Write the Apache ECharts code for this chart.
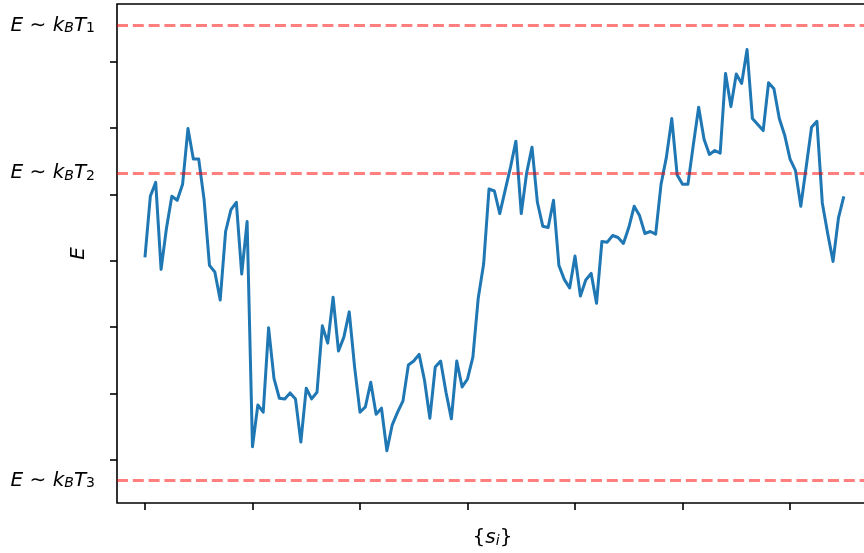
<!DOCTYPE html>
<html>
<head>
<meta charset="utf-8">
<script src="https://cdn.jsdelivr.net/npm/echarts@6/dist/echarts.min.js"></script>
<style>html,body{margin:0;padding:0;background:#fff;}#chart{width:864px;height:553px;}</style>
</head>
<body>
<div id="chart"></div>
<script>
// Energy trace E along the sequence {s_i}, one value per step
const energies = [
  3.05, 3.97, 4.18, 2.87, 3.49, 3.97, 3.91, 4.15, 4.99, 4.53,
  4.53, 3.92, 2.93, 2.83, 2.41, 3.44, 3.77, 3.88, 2.80, 3.59,
  0.20, 0.83, 0.72, 1.99, 1.23, 0.93, 0.92, 1.01, 0.92, 0.27,
  1.08, 0.92, 1.02, 2.02, 1.76, 2.45, 1.64, 1.85, 2.23, 1.40,
  0.72, 0.80, 1.17, 0.69, 0.78, 0.14, 0.53, 0.72, 0.89, 1.43,
  1.49, 1.59, 1.20, 0.63, 1.40, 1.49, 1.02, 0.62, 1.49, 1.10,
  1.22, 1.55, 2.44, 2.95, 4.08, 4.05, 3.71, 4.06, 4.41, 4.80,
  3.71, 4.32, 4.71, 3.88, 3.52, 3.50, 3.91, 2.93, 2.72, 2.59,
  3.07, 2.47, 2.71, 2.81, 2.36, 3.29, 3.28, 3.38, 3.35, 3.26,
  3.50, 3.82, 3.68, 3.41, 3.44, 3.40, 4.15, 4.56, 5.14, 4.29,
  4.15, 4.15, 4.74, 5.31, 4.83, 4.60, 4.66, 4.62, 5.82, 5.32,
  5.81, 5.67, 6.18, 5.14, 5.05, 4.96, 5.68, 5.59, 5.14, 4.89,
  4.53, 4.36, 3.82, 4.41, 5.01, 5.10, 3.87, 3.41, 2.99, 3.64,
  3.97
];
// Reference energy levels (dashed lines) and their labels
const levelValues = [6.54, 4.32, -0.31];
const levelLabels = [
  '{it|E} {rm|\u223C} {it|k}{sub|B}{it|T}{subr|1}',
  '{it|E} {rm|\u223C} {it|k}{sub|B}{it|T}{subr|2}',
  '{it|E} {rm|\u223C} {it|k}{sub|B}{it|T}{subr|3}'
];
const xTicks = [0, 20, 40, 60, 80, 100, 120];
const yTicks = [0, 1, 2, 3, 4, 5, 6];
const xName = '{{it|s}{sub|i}}';
const yName = 'E';

const FONT = 'DejaVu Sans';
const rich = {
  it:   {fontFamily: FONT, fontStyle: 'italic', fontSize: 20, lineHeight: 20, color: '#000', verticalAlign: 'bottom'},
  rm:   {fontFamily: FONT, fontSize: 20, lineHeight: 20, color: '#000', verticalAlign: 'bottom'},
  sub:  {fontFamily: FONT, fontStyle: 'italic', fontSize: 14, lineHeight: 8, color: '#000', verticalAlign: 'bottom'},
  subr: {fontFamily: FONT, fontSize: 14, lineHeight: 8, color: '#000', verticalAlign: 'bottom'}
};

const chart = echarts.init(document.getElementById('chart'), null, {renderer: 'canvas'});
chart.setOption({
  animation: false,
  backgroundColor: '#fff',
  grid: {
    left: 117, top: 4, width: 751, bottom: 50,
    show: true, borderColor: '#000', borderWidth: 1.6, backgroundColor: 'transparent',
    containLabel: false, outerBoundsMode: 'none'
  },
  xAxis: {
    type: 'value', min: -5.2, max: 134.5,
    name: xName, nameLocation: 'middle', nameGap: 25,
    nameTextStyle: {fontFamily: FONT, fontSize: 20, lineHeight: 20, color: '#000', rich: rich},
    axisLine: {show: false, onZero: false},
    axisTick: {show: true, length: 7, inside: false, lineStyle: {color: '#000', width: 1.6}, customValues: xTicks},
    axisLabel: {show: false},
    splitLine: {show: false}
  },
  yAxis: {
    type: 'value', min: -0.647, max: 6.865,
    name: yName, nameLocation: 'middle', nameGap: 28,
    nameTextStyle: {fontFamily: FONT, fontStyle: 'italic', fontSize: 20, lineHeight: 20, color: '#000'},
    axisLine: {show: false, onZero: false},
    axisTick: {show: true, length: 7, inside: false, lineStyle: {color: '#000', width: 1.6}, customValues: yTicks},
    axisLabel: {show: false},
    splitLine: {show: false}
  },
  series: [{
    type: 'line',
    data: energies.map((v, i) => [i, v]),
    showSymbol: false,
    symbol: 'none',
    silent: true,
    lineStyle: {color: '#1f77b4', width: 3, join: 'round', cap: 'butt'},
    markLine: {
      silent: true,
      symbol: ['none', 'none'],
      animation: false,
      lineStyle: {color: 'rgba(255,0,0,0.5)', width: 3, type: [11, 4.8]},
      emphasis: {disabled: true},
      data: levelValues.map((v, k) => ({
        yAxis: v,
        label: {
          show: true, position: 'start', distance: 22,
          formatter: levelLabels[k],
          fontFamily: FONT, fontSize: 20, lineHeight: 20, color: '#000',
          rich: rich
        }
      }))
    }
  }]
});
</script>
</body>
</html>
